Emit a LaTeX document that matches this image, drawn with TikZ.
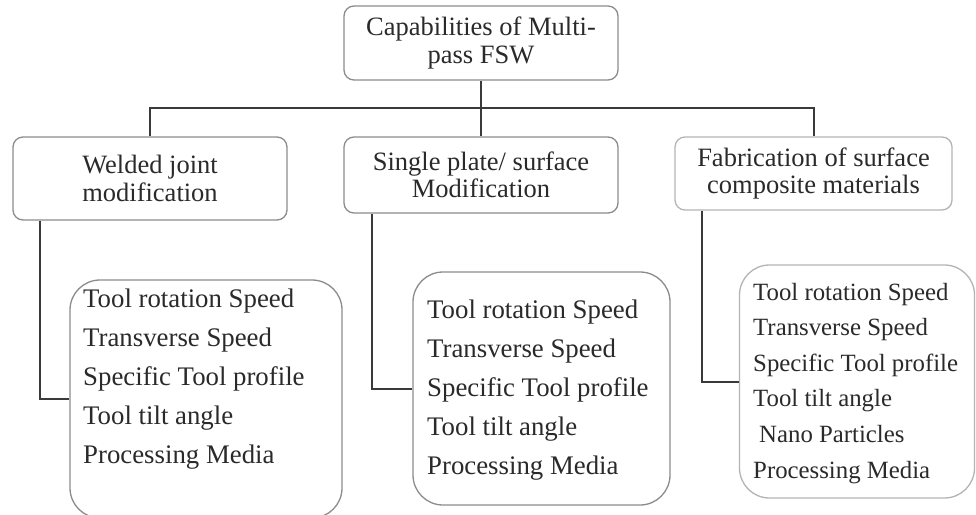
\documentclass[tikz,border=0pt]{standalone}
\usepackage{fontspec}
\setmainfont{Liberation Serif}
\definecolor{linkgray}{HTML}{3A3A3A}
\definecolor{boxgray}{HTML}{8C8C8C}
\definecolor{lightbox}{HTML}{B4B4B4}
\definecolor{txt}{HTML}{2A2A2A}
\tikzset{
  conn/.style={draw=linkgray, line width=2pt},
  headbox/.style={draw=boxgray, line width=1.3pt, rounded corners=10pt,
    align=center, text=txt, inner sep=0pt,
    font=\fontsize{26.5}{27.5}\selectfont},
  listbox/.style={draw=boxgray, line width=1.3pt, rounded corners=30pt, inner sep=0pt},
  itemtext/.style={anchor=base west, inner sep=0pt, text=txt,
    font=\fontsize{26.8}{30}\selectfont},
  smallitem/.style={itemtext, font=\fontsize{24.8}{28}\selectfont},
}
\begin{document}
\begin{tikzpicture}[x=1pt, y=-1pt]
  % page frame
  \fill[white] (0,0) rectangle (976,514);
  \useasboundingbox (0,0) rectangle (976,514);

  % root and the three branches
  \node[headbox, minimum width=274pt, minimum height=74pt] (top) at (481,43)
    {Capabilities of Multi-\\pass FSW};
  \node[headbox, minimum width=274pt, minimum height=83pt] (h1) at (150,178.5)
    {Welded joint\\modification};
  \node[headbox, minimum width=274pt, minimum height=76pt] (h2) at (481,175)
    {Single plate/ surface\\Modification};
  \node[headbox, draw=lightbox, minimum width=277pt, minimum height=73pt] (h3) at (813.5,173.5)
    {Fabrication of surface\\composite materials};

  % parameter boxes
  \node[listbox, minimum width=272pt, minimum height=238pt] (l1) at (206,399) {};
  \node[listbox, minimum width=257pt, minimum height=233pt] (l2) at (541.5,388.5) {};
  \node[listbox, draw=lightbox, minimum width=235pt, minimum height=233pt] (l3) at (857,381.5) {};

  % parameter lists
  \foreach \t [count=\i] in {Tool rotation Speed, Transverse Speed,
      Specific Tool profile, Tool tilt angle, Processing Media}
    \node[itemtext] (a\i) at (83,{307+39*(\i-1)}) {\t};
  \foreach \t [count=\i] in {Tool rotation Speed, Transverse Speed,
      Specific Tool profile, Tool tilt angle, Processing Media}
    \node[itemtext] (b\i) at (427,{318+39.2*(\i-1)}) {\t};
  \foreach \t/\dx [count=\i] in {Tool rotation Speed/0, Transverse Speed/0,
      Specific Tool profile/0, Tool tilt angle/0, Nano Particles/6, Processing Media/0}
    \node[smallitem] (c\i) at ({753+\dx},{300+35.6*(\i-1)}) {\t};

  % tree connectors
  \coordinate (bus) at (481,108);
  \draw[conn] (top.south) -- (h2.north);
  \draw[conn] (h1.north) |- (bus) -| (h3.north);
  \draw[conn] ([xshift=28pt]h1.south west) |- (l1.west);
  \draw[conn] ([xshift=29pt]h2.south west) |- (l2.west);
  \draw[conn] ([xshift=28pt]h3.south west) |- (l3.west);
\end{tikzpicture}
\end{document}
